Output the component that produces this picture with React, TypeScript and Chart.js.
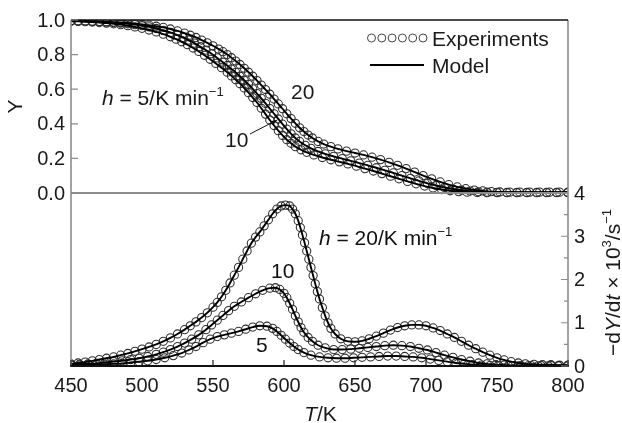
import React, { useEffect, useRef } from "react";
import { Chart, registerables } from "chart.js";

Chart.register(...registerables);

type Pt = [number, number];

// Temperature axis (K)
const tempTicks: number[] = [450, 500, 550, 600, 650, 700, 750, 800];
const tempTickLabels: string[] = ["450", "500", "550", "600", "650", "700", "750", "800"];

// Remaining fraction Y (upper panel)
const fracTicks: number[] = [0, 0.2, 0.4, 0.6, 0.8, 1.0];
const fracTickLabels: string[] = ["0.0", "0.2", "0.4", "0.6", "0.8", "1.0"];

// Rate -dY/dt x 10^3 (lower panel)
const rateTicks: number[] = [0, 1, 2, 3, 4];
const rateTickLabels: string[] = ["0", "1", "2", "3", "4"];
const rateMinorTicks: number[] = [0.5, 1.5, 2.5, 3.5];

// Y vs T, heating rate 20 K/min
const frac20: Pt[] = [
  [450, 0.995], [455, 0.995], [460, 0.994], [465, 0.993], [470, 0.992], [475, 0.99], [480, 0.988],
  [485, 0.986], [490, 0.983], [495, 0.979], [500, 0.975], [505, 0.97], [510, 0.964], [515, 0.957],
  [520, 0.948], [525, 0.937], [530, 0.924], [534, 0.912], [538, 0.899], [542, 0.884], [546, 0.868],
  [550, 0.851], [554, 0.832], [557, 0.817], [560, 0.8], [563, 0.782], [566, 0.763], [569, 0.743],
  [572, 0.721], [575, 0.698], [578, 0.675], [581, 0.65], [584, 0.624], [587, 0.598], [590, 0.571],
  [593, 0.543], [596, 0.515], [599, 0.487], [602, 0.458], [605, 0.43], [608, 0.403], [611, 0.377],
  [614, 0.355], [617, 0.335], [620, 0.318], [624, 0.298], [628, 0.283], [633, 0.268], [638, 0.255],
  [644, 0.242], [650, 0.231], [656, 0.22], [662, 0.207], [668, 0.193], [674, 0.177], [680, 0.16],
  [686, 0.141], [692, 0.121], [698, 0.101], [704, 0.082], [710, 0.064], [716, 0.048], [722, 0.035],
  [728, 0.025], [734, 0.017], [740, 0.012], [746, 0.008], [752, 0.006], [759, 0.005], [766, 0.005],
  [773, 0.005], [780, 0.005], [787, 0.005], [794, 0.005], [800, 0.005],
];

// Y vs T, heating rate 10 K/min
const frac10: Pt[] = [
  [450, 0.995], [455, 0.994], [460, 0.993], [465, 0.992], [470, 0.99], [475, 0.988], [480, 0.985],
  [485, 0.982], [490, 0.978], [495, 0.973], [500, 0.967], [505, 0.96], [510, 0.951], [515, 0.94],
  [520, 0.928], [525, 0.913], [529, 0.899], [533, 0.884], [537, 0.866], [541, 0.846], [545, 0.826],
  [549, 0.805], [553, 0.781], [557, 0.756], [560, 0.737], [563, 0.717], [566, 0.697], [569, 0.675],
  [572, 0.652], [575, 0.628], [578, 0.602], [581, 0.575], [584, 0.547], [587, 0.518], [590, 0.488],
  [593, 0.458], [596, 0.428], [599, 0.398], [602, 0.369], [605, 0.342], [608, 0.318], [611, 0.298],
  [615, 0.276], [619, 0.258], [624, 0.24], [629, 0.226], [635, 0.212], [641, 0.199], [647, 0.186],
  [653, 0.173], [659, 0.16], [665, 0.146], [671, 0.131], [677, 0.116], [683, 0.1], [689, 0.085],
  [695, 0.07], [701, 0.056], [707, 0.043], [713, 0.032], [719, 0.023], [725, 0.016], [731, 0.011],
  [737, 0.007], [743, 0.005], [750, 0.004], [757, 0.003], [764, 0.003], [771, 0.003], [778, 0.003],
  [785, 0.003], [792, 0.003], [800, 0.003],
];

// Y vs T, heating rate 5 K/min
const frac5: Pt[] = [
  [450, 0.993], [455, 0.992], [460, 0.99], [465, 0.988], [470, 0.985], [475, 0.982], [480, 0.978],
  [485, 0.973], [490, 0.967], [495, 0.96], [500, 0.952], [505, 0.942], [510, 0.931], [515, 0.918],
  [520, 0.903], [524, 0.889], [528, 0.874], [532, 0.857], [536, 0.838], [540, 0.818], [544, 0.796],
  [548, 0.773], [552, 0.749], [556, 0.724], [560, 0.698], [563, 0.677], [566, 0.655], [569, 0.632],
  [572, 0.607], [575, 0.58], [578, 0.552], [581, 0.523], [584, 0.49], [587, 0.456], [590, 0.422],
  [593, 0.39], [596, 0.36], [599, 0.333], [602, 0.308], [605, 0.287], [608, 0.268], [612, 0.25],
  [616, 0.235], [621, 0.22], [627, 0.205], [633, 0.192], [639, 0.18], [645, 0.168], [651, 0.155],
  [657, 0.141], [663, 0.127], [669, 0.112], [675, 0.097], [681, 0.082], [687, 0.067], [693, 0.053],
  [699, 0.04], [705, 0.029], [711, 0.02], [717, 0.013], [723, 0.008], [729, 0.005], [736, 0.003],
  [743, 0.002], [750, 0.002], [757, 0.002], [764, 0.002], [771, 0.002], [778, 0.002], [785, 0.002],
  [792, 0.002], [800, 0.002],
];

// -dY/dt x 10^3 (1/s), heating rate 20 K/min
const rate20: Pt[] = [
  [450, 0.05], [455, 0.07], [460, 0.09], [465, 0.12], [470, 0.15], [475, 0.18], [480, 0.21],
  [485, 0.25], [490, 0.29], [495, 0.34], [500, 0.39], [505, 0.44], [510, 0.5], [515, 0.57],
  [520, 0.65], [525, 0.74], [530, 0.84], [534, 0.93], [538, 1.02], [542, 1.12], [546, 1.23],
  [550, 1.36], [553, 1.47], [556, 1.6], [559, 1.75], [562, 1.92], [565, 2.1], [568, 2.28],
  [571, 2.47], [574, 2.66], [577, 2.84], [580, 2.98], [583, 3.1], [586, 3.24], [589, 3.38],
  [592, 3.52], [595, 3.63], [598, 3.7], [601, 3.72], [604, 3.7], [606, 3.63], [608, 3.52],
  [610, 3.36], [611.5, 3.2], [613, 3.03], [614.5, 2.85], [616, 2.66], [617.5, 2.47], [619, 2.28],
  [620.5, 2.09], [622, 1.9], [623.5, 1.72], [625, 1.55], [627, 1.35], [629, 1.16], [631, 1.0],
  [633, 0.87], [636, 0.74], [640, 0.63], [645, 0.57], [650, 0.56], [655, 0.58], [660, 0.63],
  [665, 0.69], [670, 0.76], [675, 0.83], [680, 0.89], [685, 0.93], [690, 0.95], [695, 0.95],
  [700, 0.93], [705, 0.88], [710, 0.82], [715, 0.74], [720, 0.66], [725, 0.57], [730, 0.48],
  [735, 0.4], [740, 0.32], [745, 0.25], [750, 0.19], [755, 0.14], [760, 0.1], [765, 0.07],
  [770, 0.05], [776, 0.04], [782, 0.03], [788, 0.03], [794, 0.02], [800, 0.02],
];

// -dY/dt x 10^3 (1/s), heating rate 10 K/min
const rate10: Pt[] = [
  [450, 0.03], [456, 0.04], [462, 0.05], [468, 0.06], [474, 0.08], [480, 0.1], [486, 0.12],
  [492, 0.15], [498, 0.18], [504, 0.22], [510, 0.27], [515, 0.32], [520, 0.38], [525, 0.45],
  [530, 0.53], [535, 0.62], [540, 0.72], [545, 0.84], [549, 0.95], [553, 1.06], [557, 1.17],
  [561, 1.28], [565, 1.38], [570, 1.48], [575, 1.58], [580, 1.67], [585, 1.75], [590, 1.8],
  [594, 1.81], [597, 1.77], [600, 1.68], [602, 1.58], [604, 1.45], [606, 1.31], [608, 1.16],
  [610, 1.02], [612, 0.89], [614, 0.78], [617, 0.66], [620, 0.57], [624, 0.48], [629, 0.42],
  [635, 0.38], [641, 0.38], [647, 0.39], [653, 0.41], [659, 0.43], [665, 0.45], [671, 0.47],
  [677, 0.48], [683, 0.47], [689, 0.45], [695, 0.41], [701, 0.37], [707, 0.31], [713, 0.25],
  [719, 0.2], [725, 0.15], [731, 0.11], [737, 0.07], [743, 0.05], [749, 0.03], [755, 0.02],
  [761, 0.01], [767, 0.01], [774, 0.01], [781, 0.01], [788, 0.01], [794, 0.01], [800, 0.01],
];

// -dY/dt x 10^3 (1/s), heating rate 5 K/min
const rate5: Pt[] = [
  [450, 0.02], [456, 0.02], [462, 0.03], [468, 0.03], [474, 0.04], [480, 0.05], [486, 0.06],
  [492, 0.08], [498, 0.1], [504, 0.12], [510, 0.15], [516, 0.19], [522, 0.24], [528, 0.3],
  [533, 0.37], [538, 0.45], [543, 0.54], [548, 0.62], [553, 0.68], [558, 0.72], [563, 0.76],
  [568, 0.8], [573, 0.85], [578, 0.9], [583, 0.93], [588, 0.92], [592, 0.87], [595, 0.8],
  [598, 0.71], [601, 0.62], [604, 0.53], [607, 0.45], [610, 0.38], [614, 0.31], [619, 0.25],
  [625, 0.21], [631, 0.19], [637, 0.18], [643, 0.18], [649, 0.19], [655, 0.2], [661, 0.21],
  [667, 0.22], [673, 0.23], [679, 0.23], [685, 0.22], [691, 0.21], [697, 0.19], [703, 0.16],
  [709, 0.13], [715, 0.1], [721, 0.07], [727, 0.05], [733, 0.03], [739, 0.02], [745, 0.01],
  [751, 0.01], [758, 0.005], [765, 0.005], [772, 0.005], [779, 0.005], [786, 0.005], [793, 0.005],
  [800, 0.005],
];

const FONT = '"Liberation Sans", Arial, Helvetica, sans-serif';
const AXIS_GRAY = "#8c8c8c";

type Run = { t: string; it?: boolean; sup?: boolean };

function runFont(size: number, r: Run) {
  const s = r.sup ? Math.round(size * 0.62) : size;
  return `${r.it ? "italic " : ""}${s}px ${FONT}`;
}

function drawRuns(
  ctx: CanvasRenderingContext2D,
  runs: Run[],
  x: number,
  y: number,
  size: number,
  align: "left" | "center" | "right"
) {
  let total = 0;
  const widths = runs.map((r) => {
    ctx.font = runFont(size, r);
    const w = ctx.measureText(r.t).width;
    total += w;
    return w;
  });
  let cx = align === "left" ? x : align === "center" ? x - total / 2 : x - total;
  ctx.textAlign = "left";
  ctx.textBaseline = "alphabetic";
  runs.forEach((r, i) => {
    ctx.font = runFont(size, r);
    ctx.fillText(r.t, cx, r.sup ? y - size * 0.42 : y);
    cx += widths[i];
  });
}

const framePlugin = {
  id: "panelFrame",
  afterDraw(chart: any) {
    const ctx: CanvasRenderingContext2D = chart.ctx;
    const xs = chart.scales.x;
    const yT = chart.scales.yTop;
    const yB = chart.scales.yBot;
    const left = xs.getPixelForValue(450);
    const right = xs.getPixelForValue(800);
    const top = yT.getPixelForValue(1);
    const mid = yT.getPixelForValue(0);
    const bottom = yB.getPixelForValue(0);

    ctx.save();
    ctx.lineCap = "butt";

    // panel frames
    ctx.strokeStyle = AXIS_GRAY;
    ctx.lineWidth = 1.6;
    ctx.beginPath();
    ctx.moveTo(left, top);
    ctx.lineTo(left, bottom);
    ctx.moveTo(right, top);
    ctx.lineTo(right, bottom);
    ctx.stroke();

    ctx.lineWidth = 2;
    ctx.beginPath();
    ctx.moveTo(left, mid);
    ctx.lineTo(right, mid);
    ctx.stroke();

    ctx.strokeStyle = "#111";
    ctx.lineWidth = 1.3;
    ctx.beginPath();
    ctx.moveTo(left, top);
    ctx.lineTo(right, top);
    ctx.stroke();

    ctx.lineWidth = 1.8;
    ctx.beginPath();
    ctx.moveTo(left - 0.8, bottom);
    ctx.lineTo(right + 0.8, bottom);
    ctx.stroke();

    // ticks
    ctx.lineWidth = 1.2;
    ctx.strokeStyle = AXIS_GRAY;
    ctx.beginPath();
    fracTicks.forEach((v) => {
      const py = yT.getPixelForValue(v);
      ctx.moveTo(left, py);
      ctx.lineTo(left + 7, py);
    });
    rateTicks.forEach((v) => {
      const py = yB.getPixelForValue(v);
      ctx.moveTo(right, py);
      ctx.lineTo(right - 7, py);
    });
    rateMinorTicks.forEach((v) => {
      const py = yB.getPixelForValue(v);
      ctx.moveTo(right, py);
      ctx.lineTo(right - 4, py);
    });
    ctx.stroke();

    ctx.strokeStyle = "#222";
    ctx.beginPath();
    tempTicks.forEach((v) => {
      const px = xs.getPixelForValue(v);
      ctx.moveTo(px, bottom);
      ctx.lineTo(px, bottom - 6);
    });
    ctx.stroke();

    // tick labels
    ctx.fillStyle = "#1a1a1a";
    ctx.font = `20px ${FONT}`;
    ctx.textBaseline = "middle";
    ctx.textAlign = "right";
    fracTicks.forEach((v, i) => {
      ctx.fillText(fracTickLabels[i], left - 6, yT.getPixelForValue(v) + 1);
    });
    ctx.textAlign = "left";
    rateTicks.forEach((v, i) => {
      ctx.fillText(rateTickLabels[i], right + 6, yB.getPixelForValue(v) + 1);
    });
    ctx.textAlign = "center";
    tempTicks.forEach((v, i) => {
      ctx.fillText(tempTickLabels[i], xs.getPixelForValue(v), bottom + 20);
    });

    // axis titles
    drawRuns(ctx, [{ t: "T", it: true }, { t: "/K" }], (left + right) / 2 + 1, 421, 21, "center");

    ctx.save();
    ctx.translate(22, (top + mid) / 2);
    ctx.rotate(-Math.PI / 2);
    drawRuns(ctx, [{ t: "Y" }], 0, 0, 21, "center");
    ctx.restore();

    ctx.save();
    ctx.translate(620, (mid + bottom) / 2 + 3);
    ctx.rotate(-Math.PI / 2);
    drawRuns(
      ctx,
      [
        { t: "\u2212d" },
        { t: "Y", it: true },
        { t: "/d" },
        { t: "t", it: true },
        { t: " \u00d7 10" },
        { t: "3", sup: true },
        { t: "/s" },
        { t: "\u22121", sup: true },
      ],
      0,
      0,
      21,
      "center"
    );
    ctx.restore();

    // legend
    const legY1 = 38;
    const legY2 = 65;
    ctx.strokeStyle = "#444";
    ctx.lineWidth = 1;
    for (let i = 0; i < 6; i++) {
      ctx.beginPath();
      ctx.arc(371.5 + i * 10.3, legY1, 4, 0, Math.PI * 2);
      ctx.stroke();
    }
    ctx.strokeStyle = "#000";
    ctx.lineWidth = 1.9;
    ctx.beginPath();
    ctx.moveTo(370, legY2);
    ctx.lineTo(424, legY2);
    ctx.stroke();
    drawRuns(ctx, [{ t: "Experiments" }], 432, legY1 + 7.5, 21, "left");
    drawRuns(ctx, [{ t: "Model" }], 432, legY2 + 7.5, 21, "left");

    // curve annotations
    drawRuns(
      ctx,
      [{ t: "h", it: true }, { t: " = 5/K min" }, { t: "\u22121", sup: true }],
      102,
      105,
      21,
      "left"
    );
    drawRuns(ctx, [{ t: "20" }], 291, 99, 21, "left");
    drawRuns(ctx, [{ t: "10" }], 225, 147, 21, "left");

    // leader from "10" to its curve
    ctx.strokeStyle = "#111";
    ctx.lineWidth = 1;
    ctx.beginPath();
    ctx.moveTo(250, 134);
    ctx.lineTo(275, 121);
    ctx.stroke();
    ctx.fillStyle = "#111";
    ctx.beginPath();
    ctx.moveTo(278, 119.5);
    ctx.lineTo(271.5, 121);
    ctx.lineTo(273.5, 124.5);
    ctx.closePath();
    ctx.fill();

    drawRuns(
      ctx,
      [{ t: "h", it: true }, { t: " = 20/K min" }, { t: "\u22121", sup: true }],
      319,
      245,
      21,
      "left"
    );
    drawRuns(ctx, [{ t: "10" }], 271, 278, 21, "left");
    drawRuns(ctx, [{ t: "5" }], 256, 352, 21, "left");

    ctx.restore();
  },
};

function toXY(pts: Pt[]) {
  return pts.map(([x, y]) => ({ x, y }));
}

function modelSet(pts: Pt[], axis: string) {
  return {
    data: toXY(pts),
    yAxisID: axis,
    xAxisID: "x",
    borderColor: "#000",
    borderWidth: 1.9,
    pointRadius: 0,
    fill: false,
    cubicInterpolationMode: "monotone" as const,
  };
}

function expSet(pts: Pt[], axis: string) {
  return {
    data: toXY(pts),
    yAxisID: axis,
    xAxisID: "x",
    showLine: false,
    pointStyle: "circle" as const,
    pointRadius: 4.1,
    pointBorderWidth: 1.05,
    pointBorderColor: "#2e2e2e",
    pointBackgroundColor: "rgba(255,255,255,0)",
  };
}

export default function App() {
  const ref = useRef<HTMLCanvasElement | null>(null);

  useEffect(() => {
    if (!ref.current) return;
    const chart = new Chart(ref.current, {
      type: "line",
      data: {
        datasets: [
          modelSet(frac20, "yTop"),
          modelSet(frac10, "yTop"),
          modelSet(frac5, "yTop"),
          modelSet(rate20, "yBot"),
          modelSet(rate10, "yBot"),
          modelSet(rate5, "yBot"),
          expSet(frac20, "yTop"),
          expSet(frac10, "yTop"),
          expSet(frac5, "yTop"),
          expSet(rate20, "yBot"),
          expSet(rate10, "yBot"),
          expSet(rate5, "yBot"),
        ] as any,
      },
      options: {
        responsive: false,
        animation: false,
        events: [],
        layout: { padding: { left: 71, right: 54, top: 20, bottom: 57 } },
        plugins: { legend: { display: false }, tooltip: { enabled: false } },
        scales: {
          x: { type: "linear", min: 450, max: 800, display: false },
          yTop: { type: "linear", min: -1, max: 1, display: false },
          yBot: { type: "linear", min: 0, max: 8, display: false },
        },
      },
      plugins: [framePlugin],
    });
    return () => chart.destroy();
  }, []);

  return (
    <div style={{ position: "absolute", left: 0, top: 0, width: 622, height: 423, background: "#fff" }}>
      <canvas ref={ref} width={622} height={423} style={{ display: "block" }} />
    </div>
  );
}
